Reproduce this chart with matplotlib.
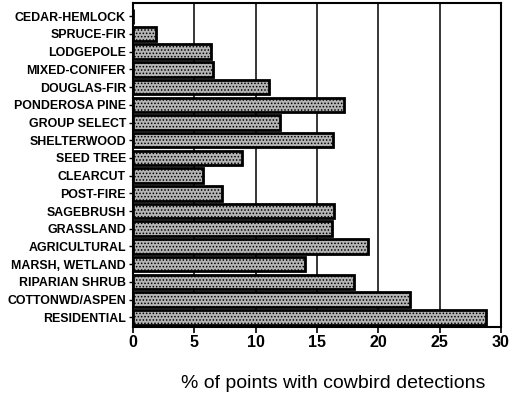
import matplotlib
matplotlib.use("Agg")
import matplotlib.pyplot as plt

categories = ["CEDAR-HEMLOCK", "SPRUCE-FIR", "LODGEPOLE", "MIXED-CONIFER", "DOUGLAS-FIR",
              "PONDEROSA PINE", "GROUP SELECT", "SHELTERWOOD", "SEED TREE", "CLEARCUT",
              "POST-FIRE", "SAGEBRUSH", "GRASSLAND", "AGRICULTURAL", "MARSH, WETLAND",
              "RIPARIAN SHRUB", "COTTONWD/ASPEN", "RESIDENTIAL"]
values = [0, 1.9, 6.4, 6.5, 11.1, 17.2, 12.0, 16.3, 8.9, 5.7, 7.3, 16.4, 16.2, 19.2,
          14.0, 18.0, 22.6, 28.8]
xticks = [0, 5, 10, 15, 20, 25, 30]

plt.rcParams['font.family'] = ['Liberation Sans', 'DejaVu Sans']
plt.rcParams['hatch.color'] = '#444444'
plt.rcParams['hatch.linewidth'] = 0.7

fig = plt.figure(figsize=(5.17, 4.0), dpi=100)
ax = fig.add_axes([0.257, 0.1825, 0.712, 0.81])

ypos = list(range(len(categories)))
ax.barh(ypos, values, height=0.82, facecolor='#b4b4b4', edgecolor='black',
        linewidth=2.0, hatch='.....', zorder=3)
ax.set_ylim(len(categories) - 0.45, -0.75)
ax.set_xlim(0, 30)
ax.set_yticks(ypos)
ax.set_yticklabels(categories, fontsize=8.9, fontweight='bold')
ax.set_xticks(xticks)
ax.set_xticklabels([str(t) for t in xticks], fontsize=11.5, fontweight='bold')
for t in xticks[1:-1]:
    ax.axvline(t, color='black', linewidth=1.1, zorder=1)
for s in ax.spines.values():
    s.set_linewidth(1.5)
ax.tick_params(axis='y', length=3, width=1, pad=2)
ax.tick_params(axis='x', length=4, width=1.2, pad=2)
fig.text(0.645, 0.042, "% of points with cowbird detections", ha='center', va='center',
         fontsize=14)
fig.savefig("out.png", dpi=100)
